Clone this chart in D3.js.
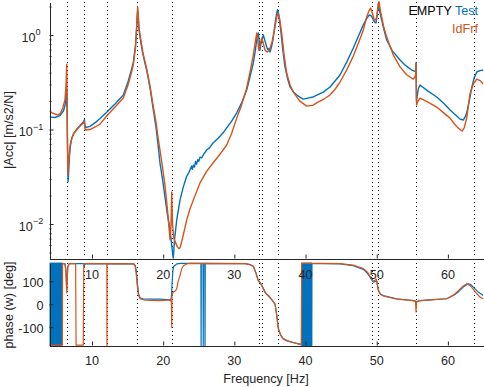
<!DOCTYPE html>
<html><head><meta charset="utf-8">
<script src="https://cdn.jsdelivr.net/npm/d3@7"></script>
<style>
html,body{margin:0;padding:0;background:#fff;}
svg{display:block;font-family:"Liberation Sans",Arial,Helvetica,sans-serif;}
</style></head><body>
<svg id="c" width="484" height="387"></svg>
<script>
// ---------------- data ----------------
const freqTicks = [10, 20, 30, 40, 50, 60];
const magTicks = [0.01, 0.1, 1];
const magMinorTicks = [0.005,0.006,0.007,0.008,0.009,0.02,0.03,0.04,0.05,0.06,0.07,0.08,0.09,0.2,0.3,0.4,0.5,0.6,0.7,0.8,0.9,2];
const phaseTicks = [-100, 0, 100];
const modeFreqs = [6.44, 8.92, 12.15, 16.32, 21.2, 33.42, 33.92, 36.09, 49.34, 50.14, 55.52, 63.64];
const legendTitle = "EMPTY";
const seriesNames = ["Test", "IdFrf"];

// magnitude |Acc| [m/s2/N], [frequency Hz, value]
const testMag = [[4.0,0.136],[4.8,0.134],[5.5,0.140],[6.0,0.158],[6.25,0.185],[6.38,0.23],[6.45,0.27],[6.5,0.15],[6.56,0.06],[6.64,0.028],[6.7,0.033],[6.8,0.048],[6.95,0.066],[7.15,0.08],[7.4,0.09],[7.85,0.101],[8.3,0.11],[8.78,0.12],[8.93,0.127],[9.0,0.112],[9.1,0.105],[9.72,0.108],[10.5,0.119],[11.13,0.131],[12.06,0.152],[13.23,0.186],[14.4,0.232],[15.06,0.32],[15.5,0.42],[15.8,0.51],[16.11,0.78],[16.25,1.15],[16.36,1.6],[16.42,1.8],[16.5,1.55],[16.6,1.13],[16.9,0.8],[17.16,0.62],[17.72,0.41],[18.15,0.275],[18.57,0.169],[18.99,0.106],[19.27,0.07],[19.55,0.0442],[19.9,0.03],[20.25,0.0194],[20.6,0.0125],[20.96,0.0087],[21.1,0.0070],[21.24,0.0056],[21.42,0.0043],[21.59,0.0068],[21.9,0.011],[22.36,0.0179],[22.83,0.0247],[23.3,0.032],[23.6,0.035],[23.8,0.038],[24.0,0.041],[24.1,0.038],[24.25,0.042],[24.4,0.040],[24.55,0.046],[24.7,0.043],[24.85,0.048],[25.0,0.046],[25.17,0.051],[25.4,0.050],[25.7,0.055],[26.11,0.0607],[26.5,0.064],[27.0,0.072],[27.5,0.078],[27.98,0.085],[28.5,0.094],[28.92,0.104],[29.6,0.122],[30.33,0.15],[31.0,0.19],[31.73,0.262],[32.2,0.36],[32.66,0.506],[32.9,0.65],[33.14,0.885],[33.36,1.05],[33.5,0.85],[33.6,0.694],[33.7,0.78],[33.8,0.84],[33.9,0.9],[34.07,1.0],[34.2,0.92],[34.54,0.75],[34.7,0.70],[34.85,0.72],[35.01,0.66],[35.2,0.74],[35.47,0.93],[35.7,1.3],[35.95,1.71],[36.08,1.85],[36.17,1.75],[36.35,1.4],[36.51,1.13],[36.8,0.7],[37.11,0.46],[37.5,0.34],[37.82,0.282],[38.3,0.25],[38.76,0.232],[39.2,0.22],[39.68,0.21],[40.3,0.215],[41.09,0.221],[41.8,0.235],[42.49,0.249],[43.44,0.282],[44.2,0.33],[44.84,0.377],[45.8,0.52],[46.71,0.73],[47.5,1.0],[48.11,1.28],[48.6,1.5],[48.96,1.63],[49.2,1.6],[49.34,1.55],[49.52,1.44],[49.75,1.36],[49.9,1.34],[50.05,1.6],[50.22,2.16],[50.4,1.8],[50.7,1.44],[51.0,1.15],[51.4,0.885],[52.2,0.68],[53.27,0.544],[54.0,0.48],[54.91,0.426],[55.45,0.409],[55.52,0.506],[55.58,0.2],[55.84,0.27],[56.08,0.296],[57.2,0.255],[58.43,0.221],[59.4,0.19],[60.3,0.161],[61.0,0.144],[61.7,0.129],[62.16,0.126],[62.4,0.135],[62.64,0.15],[63.0,0.2],[63.34,0.275],[63.67,0.35],[64.05,0.406],[64.5,0.42],[64.97,0.426]];

const frfMag = [[4.0,0.158],[4.4,0.150],[4.8,0.146],[5.26,0.142],[5.6,0.150],[5.9,0.170],[6.2,0.205],[6.35,0.296],[6.41,0.40],[6.45,0.49],[6.5,0.205],[6.56,0.07],[6.63,0.033],[6.7,0.041],[6.77,0.05],[6.91,0.067],[7.15,0.081],[7.5,0.092],[7.85,0.099],[8.3,0.108],[8.78,0.117],[8.92,0.123],[8.97,0.108],[9.04,0.099],[9.72,0.10],[10.5,0.107],[11.13,0.114],[12.06,0.139],[13.23,0.173],[14.4,0.215],[15.06,0.296],[15.5,0.39],[15.8,0.482],[16.11,0.73],[16.25,1.1],[16.34,1.6],[16.42,1.98],[16.5,1.6],[16.6,1.19],[16.9,0.85],[17.16,0.645],[17.72,0.426],[18.15,0.289],[18.57,0.182],[18.99,0.12],[19.27,0.083],[19.55,0.0607],[19.9,0.040],[20.25,0.0258],[20.67,0.0125],[20.96,0.0068],[21.1,0.0098],[21.2,0.0218],[21.31,0.0098],[21.52,0.0070],[21.95,0.0058],[22.2,0.0055],[22.36,0.0056],[22.6,0.0065],[22.83,0.0077],[23.3,0.011],[23.77,0.0145],[24.23,0.0179],[25.17,0.0272],[26.1,0.036],[27.0,0.0442],[28.0,0.055],[28.92,0.0686],[29.6,0.09],[30.33,0.132],[31.0,0.18],[31.73,0.275],[32.2,0.406],[32.66,0.614],[32.95,0.85],[33.14,1.05],[33.3,0.85],[33.42,0.694],[33.55,0.75],[33.84,0.93],[34.0,0.85],[34.3,0.694],[34.6,0.66],[34.91,0.694],[35.3,0.85],[35.71,1.22],[35.95,1.55],[36.17,1.71],[36.35,1.5],[36.65,1.05],[37.0,0.6],[37.35,0.396],[37.8,0.3],[38.28,0.249],[39.2,0.20],[40.16,0.177],[41.0,0.18],[41.57,0.191],[42.5,0.208],[43.44,0.232],[44.2,0.27],[44.84,0.318],[45.8,0.43],[46.71,0.6],[47.5,0.85],[48.11,1.13],[48.59,1.55],[48.9,1.8],[49.15,1.93],[49.34,1.75],[49.66,1.44],[49.85,1.45],[50.0,1.55],[50.15,1.9],[50.32,2.25],[50.5,1.85],[50.7,1.55],[51.0,1.2],[51.4,0.95],[52.3,0.62],[53.27,0.46],[54.2,0.38],[55.14,0.342],[55.45,0.37],[55.52,0.506],[55.6,0.182],[55.8,0.2],[56.08,0.215],[57.2,0.195],[58.43,0.173],[59.4,0.15],[60.3,0.132],[60.9,0.115],[61.42,0.104],[62.0,0.0964],[62.3,0.105],[62.64,0.132],[63.1,0.238],[63.57,0.303],[64.05,0.342],[64.5,0.33],[64.97,0.303]];

// phase [deg], [frequency Hz, value]
const testPhase = [[4.00,180],[4.04,-180],[4.08,180],[4.12,-180],[4.16,180],[4.20,-180],[4.24,180],[4.28,-180],[4.32,180],[4.36,-180],[4.40,180],[4.44,-180],[4.48,180],[4.52,-180],[4.56,180],[4.60,-180],[4.64,180],[4.68,-180],[4.72,180],[4.76,-180],[4.80,180],[4.84,-180],[4.88,180],[4.92,-180],[4.96,180],[5.00,-180],[5.04,180],[5.08,-180],[5.12,180],[5.16,-180],[5.20,180],[5.24,-180],[5.28,180],[5.32,-180],[5.36,180],[5.40,-180],[5.44,180],[5.48,-180],[5.52,180],[5.56,-180],[5.60,180],[5.64,-180],[5.68,180],[5.72,-180],[5.76,180],
[5.8,178],[6.2,176],[6.33,150],[6.4,100],[6.45,62],[6.5,110],[6.6,165],[6.8,177],[8.88,177],[8.93,162],[8.98,177],[15.9,176],[16.1,168],[16.25,140],[16.38,90],[16.55,45],[16.75,28],[17.2,23],[18.5,22],[19.5,22],[20.5,20],[21.0,17],[21.15,30],[21.25,90],[21.35,140],[21.45,165],[21.9,176],[22.5,178],[25.3,178],[25.33,-180],[25.36,178],[25.6,178],[25.63,-180],[25.66,178],[25.85,178],[25.88,-180],[25.91,178],[31.5,177],[32.2,173],[32.66,166],[33.0,140],[33.36,104],[33.6,96],[33.9,80],[34.3,54],[34.6,42],[34.8,38],[35.0,30],[35.3,18],[35.71,2],[35.95,-48],[36.17,-104],[36.5,-135],[36.87,-150],[37.5,-160],[38.28,-167],[39.22,-174],[39.44,-178],
[39.48,180],[39.52,-180],[39.56,180],[39.60,-180],[39.64,180],[39.68,-180],[39.72,180],[39.76,-180],[39.80,180],[39.84,-180],[39.88,180],[39.92,-180],[39.96,180],[40.00,-180],[40.04,180],[40.08,-180],[40.12,180],[40.16,-180],[40.20,180],[40.24,-180],[40.28,180],[40.32,-180],[40.36,180],[40.40,-180],[40.44,180],[40.48,-180],[40.52,180],[40.56,-180],[40.60,180],[40.64,-180],[40.68,180],[40.72,-180],[40.76,180],[40.80,-180],[40.84,180],[40.88,-180],
[40.9,178],[44.84,176],[46.71,168],[48.11,152],[48.7,135],[49.06,118],[49.52,96],[49.8,100],[50.0,102],[50.22,62],[50.5,45],[50.92,38],[52.8,24],[55.14,16],[55.45,14],[55.52,-5],[55.6,12],[56.08,16],[58.0,20],[59.83,24],[60.76,38],[61.5,55],[62.16,75],[62.87,89],[63.2,86],[63.57,75],[64.2,55],[64.97,38]];

const frfPhase = [[4.0,-178],[5.84,-178],[5.86,178],[6.2,176],[6.33,148],[6.4,90],[6.45,50],[6.5,100],[6.6,160],[6.8,177],[7.7,177],[7.76,-178],[8.78,-178],[8.84,177],[12.08,177],[12.1,-180],[12.12,177],[15.8,176],[16.05,166],[16.2,135],[16.35,85],[16.5,42],[16.74,24],[17.5,18],[19.5,16],[20.5,18],[21.0,20],[21.15,10],[21.2,-100],[21.24,40],[21.42,54],[21.7,58],[21.9,67],[22.1,100],[22.36,125],[22.6,155],[22.83,168],[23.3,176],[23.77,178],[31.5,177],[32.2,173],[32.66,166],[33.0,138],[33.36,102],[33.6,94],[33.9,78],[34.3,52],[34.91,31],[35.3,18],[35.71,0],[35.95,-45],[36.17,-105],[36.5,-135],[36.87,-152],[37.5,-161],[38.28,-168],[39.4,-176],[39.46,178],[42.0,178],[44.84,177],[46.71,171],[48.11,156],[48.7,140],[49.06,122],[49.52,100],[49.8,106],[49.95,110],[50.22,62],[50.5,44],[50.92,36],[52.8,22],[55.14,16],[55.45,14],[55.52,-34],[55.6,10],[56.08,16],[58.0,20],[59.83,24],[60.76,40],[61.5,60],[62.16,80],[62.64,89],[63.1,82],[63.57,65],[64.0,48],[64.51,31],[64.97,24]];

// ---------------- drawing ----------------
const BLUE = "#0072BD", ORANGE = "#D95319", INK = "#262626";
const FS = 12.6;
const svg = d3.select("#c");

const x = d3.scaleLinear().domain([4, 65]).range([49.3, 483.5]);
const yMag = d3.scaleLog().domain([0.00437, 2.235]).range([258, 2]);
const yPh = d3.scaleLinear().domain([-180, 180]).range([345.5, 263]);

const defs = svg.append("defs");
defs.append("clipPath").attr("id", "clipTop").append("rect")
  .attr("x", 49.5).attr("y", 0).attr("width", 434).attr("height", 258.5);
defs.append("clipPath").attr("id", "clipBot").append("rect")
  .attr("x", 49.5).attr("y", 261).attr("width", 434).attr("height", 85);

// ----- top axes -----
const gTop = svg.append("g");
const topPlot = gTop.append("g").attr("clip-path", "url(#clipTop)");
topPlot.selectAll("line.mode").data(modeFreqs).join("line")
  .attr("x1", d => Math.round(x(d)) + 0.5).attr("x2", d => Math.round(x(d)) + 0.5)
  .attr("y1", 2).attr("y2", 258)
  .attr("stroke", "#000").attr("stroke-width", 1).attr("stroke-dasharray", "1 3")
  .attr("shape-rendering", "crispEdges");

const magLine = d3.line().x(d => x(d[0])).y(d => yMag(d[1]));
topPlot.append("path").datum(testMag).attr("d", magLine)
  .attr("fill", "none").attr("stroke", BLUE).attr("stroke-width", 1.4).attr("stroke-linejoin", "round");
topPlot.append("path").datum(frfMag).attr("d", magLine)
  .attr("fill", "none").attr("stroke", ORANGE).attr("stroke-width", 1.4).attr("stroke-linejoin", "round");

// axes lines + ticks
const axTopX = gTop.append("g").attr("transform", "translate(0,258.5)")
  .call(d3.axisBottom(x).tickValues(freqTicks).tickSizeInner(-4).tickSizeOuter(0).tickFormat(""));
const axTopY = gTop.append("g").attr("transform", "translate(49.5,0)")
  .call(d3.axisLeft(yMag).tickValues(magTicks).tickSizeInner(-4).tickSizeOuter(0).tickFormat(""));
gTop.append("g").attr("transform", "translate(49.5,0)")
  .call(d3.axisLeft(yMag).tickValues(magMinorTicks).tickSizeInner(-2).tickSizeOuter(0).tickFormat(""))
  .select(".domain").remove();
[axTopX, axTopY].forEach(a => a.select(".domain").attr("stroke", INK).attr("shape-rendering", "crispEdges"));
gTop.selectAll(".tick line").attr("stroke", INK);

// log tick labels (10^n), centered
const expOf = v => Math.round(Math.log10(v));
const magLab = gTop.append("g").attr("fill", INK).attr("font-size", FS);
magTicks.forEach(v => {
  const t = magLab.append("text").attr("x", 31).attr("y", yMag(v) + 6.5).attr("text-anchor", "middle");
  t.append("tspan").text("10");
  t.append("tspan").attr("dy", -6.5).attr("font-size", 9).text(expOf(v) === 0 ? "0" : "\u2212" + Math.abs(expOf(v)));
});

// top-axes x tick labels
gTop.append("g").selectAll("text").data(freqTicks).join("text")
  .attr("x", d => x(d)).attr("y", 278.5).attr("text-anchor", "middle")
  .attr("font-size", FS).attr("fill", INK).text(d => d);

// y label top
svg.append("text").attr("transform", "translate(12.5,130) rotate(-90)")
  .attr("text-anchor", "middle").attr("font-size", FS).attr("fill", INK).text("|Acc| [m/s2/N]");

// legend
const leg = svg.append("g").attr("font-size", FS);
const l1 = leg.append("text").attr("x", 478).attr("y", 15).attr("text-anchor", "end");
l1.append("tspan").attr("fill", "#000").text(legendTitle + " ");
l1.append("tspan").attr("fill", BLUE).text(seriesNames[0]);
leg.append("text").attr("x", 478).attr("y", 33).attr("text-anchor", "end").attr("fill", ORANGE).text(seriesNames[1]);

// ----- bottom axes -----
const gBot = svg.append("g");
const botPlot = gBot.append("g").attr("clip-path", "url(#clipBot)");
botPlot.selectAll("line.mode").data(modeFreqs).join("line")
  .attr("x1", d => Math.round(x(d)) + 0.5).attr("x2", d => Math.round(x(d)) + 0.5)
  .attr("y1", 263).attr("y2", 345.5)
  .attr("stroke", "#000").attr("stroke-width", 1).attr("stroke-dasharray", "1 3")
  .attr("shape-rendering", "crispEdges");

const phLine = d3.line().x(d => x(d[0])).y(d => yPh(d[1]));
botPlot.append("path").datum(testPhase).attr("d", phLine)
  .attr("fill", "none").attr("stroke", BLUE).attr("stroke-width", 1.2).attr("stroke-linejoin", "round");
botPlot.append("path").datum(frfPhase).attr("d", phLine)
  .attr("fill", "none").attr("stroke", ORANGE).attr("stroke-width", 1.2).attr("stroke-linejoin", "round");

const axBotX = gBot.append("g").attr("transform", "translate(0,345.5)")
  .call(d3.axisBottom(x).tickValues(freqTicks).tickSizeInner(-4).tickSizeOuter(0).tickFormat(""));
const axBotY = gBot.append("g").attr("transform", "translate(49.5,0)")
  .call(d3.axisLeft(yPh).tickValues(phaseTicks).tickSizeInner(-4).tickSizeOuter(0).tickFormat(""));
[axBotX, axBotY].forEach(a => a.select(".domain").attr("stroke", INK).attr("shape-rendering", "crispEdges"));
gBot.selectAll(".tick line").attr("stroke", INK);

gBot.append("g").selectAll("text").data(phaseTicks).join("text")
  .attr("x", 43.5).attr("y", d => yPh(d) + 5.5).attr("text-anchor", "end")
  .attr("font-size", FS).attr("fill", INK).text(d => d === 0 ? "0" : (d < 0 ? "-" + Math.abs(d) : d));
gBot.append("g").selectAll("text").data(freqTicks).join("text")
  .attr("x", d => x(d)).attr("y", 365).attr("text-anchor", "middle")
  .attr("font-size", FS).attr("fill", INK).text(d => d);

svg.append("text").attr("transform", "translate(12.5,305) rotate(-90)")
  .attr("text-anchor", "middle").attr("font-size", FS).attr("fill", INK).text("phase (w) [deg]");
svg.append("text").attr("x", 266).attr("y", 382.5).attr("text-anchor", "middle")
  .attr("font-size", FS).attr("fill", INK).text("Frequency [Hz]");

// top-axes tick labels drawn above the lower plot
svg.node().appendChild(gTop.node().lastChild);
</script>
</body></html>
